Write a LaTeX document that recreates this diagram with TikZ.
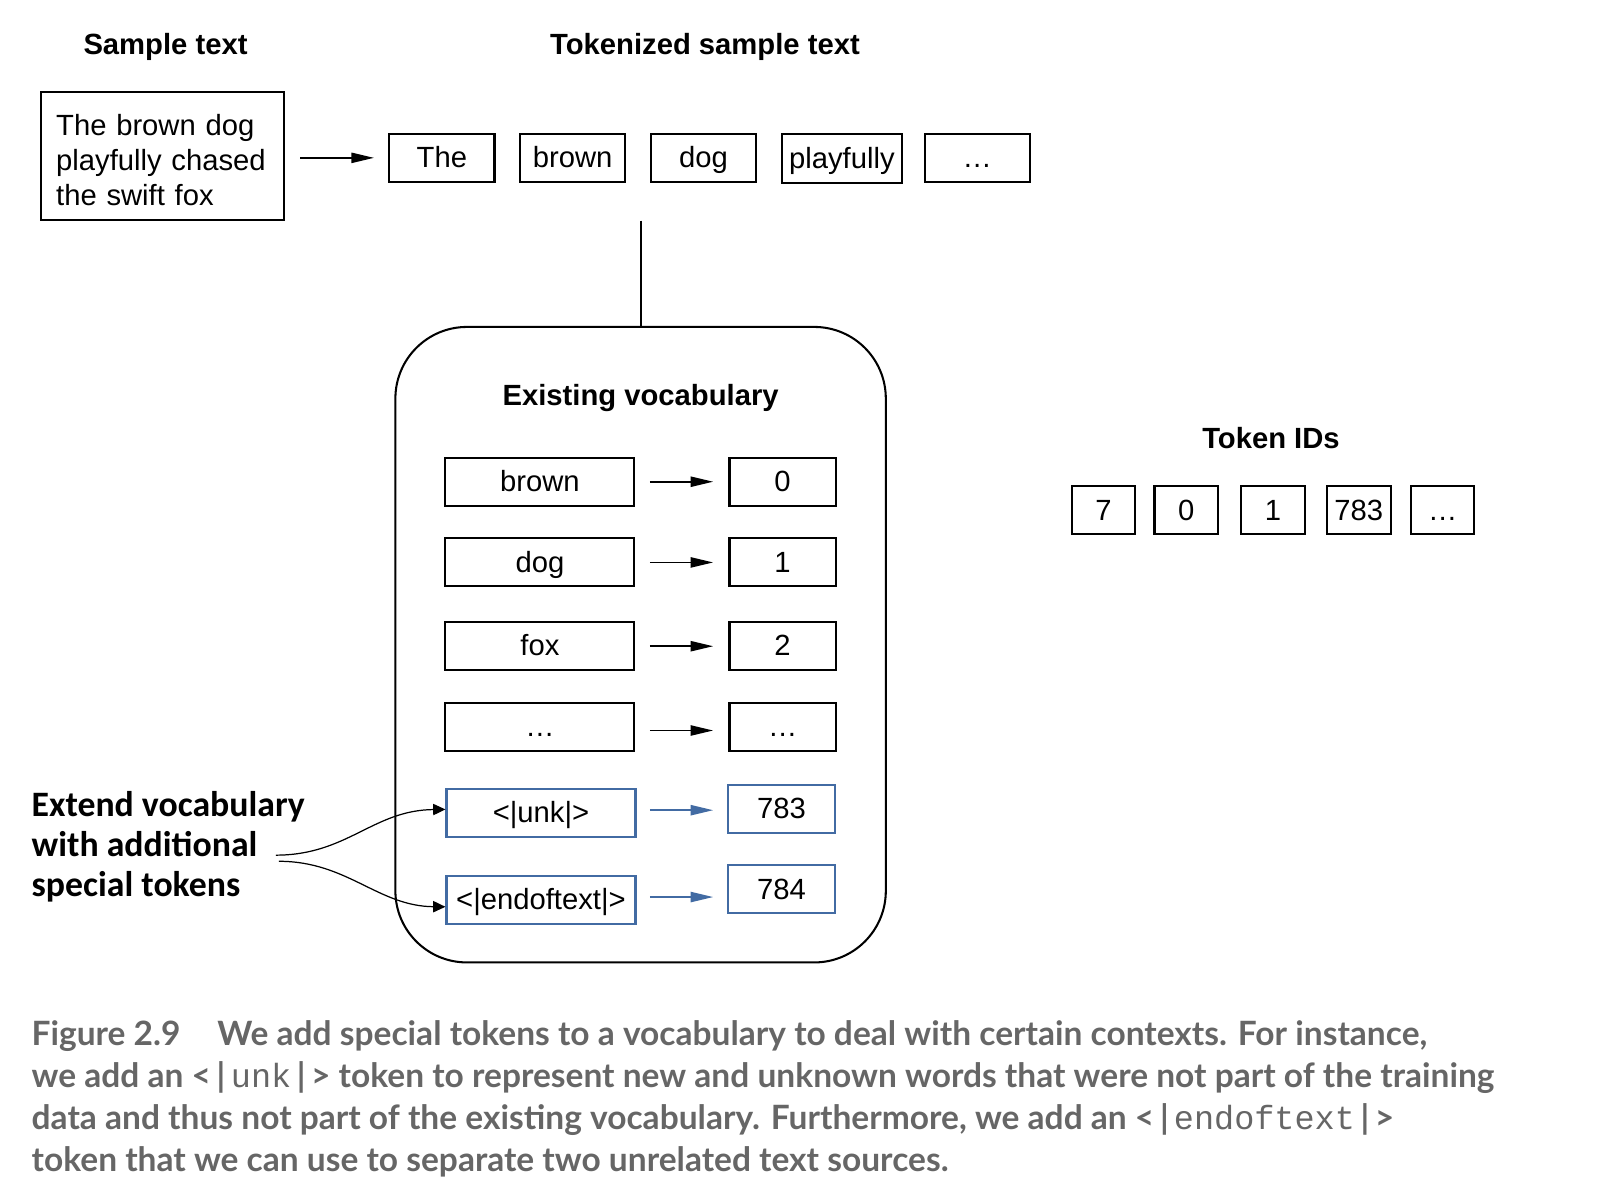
\documentclass[tikz,border=0pt]{standalone}
\usepackage{fontspec}
\setmainfont{Liberation Sans}
\newfontfamily\extfont{Carlito}
\newfontfamily\figcapfont{Lato}
\newfontfamily\figcapmono{Liberation Mono}
\usetikzlibrary{arrows.meta}

\definecolor{tokblue}{RGB}{66,107,163}
\definecolor{capgray}{RGB}{102,102,102}

\tikzset{every picture/.style={line width=1pt},
  tokbox/.style={draw, line width=1pt, inner sep=0pt, minimum height=23.5pt,
    text height=12.5pt, text depth=3pt, font=\fontsize{14.3}{17}\selectfont},
  headlabel/.style={font=\fontsize{14.3}{17}\selectfont\bfseries},
  tokarrow/.style={-{Triangle[length=11pt,width=5pt]}, line width=0.8pt},
  extarrow/.style={-{Triangle[length=6pt,width=5.5pt]}, line width=0.6pt}
}

\begin{document}
\begin{tikzpicture}[x=0.5pt,y=0.5pt,yscale=-1,xscale=1]
\useasboundingbox (0,0) rectangle (1568,1176.5);

% Text Node
\draw (162,46) node (hSample) [headlabel] {Sample text};
% Text Node
\draw (690,46) node (hTokens) [headlabel] {Tokenized sample text};

%Shape: Rectangle
\draw (159,152.5) node (sample) [draw, line width=1pt, inner xsep=7.5pt, inner ysep=0pt,
  text width=104pt, minimum height=62.5pt, align=left,
  font=\fontsize{14.3}{17.25}\selectfont] {\rule{0pt}{14.5pt}The brown dog\\playfully chased\\the swift fox};

%Shape: Rectangle
\draw (432.5,154.5) node (tkThe) [tokbox, minimum width=51.5pt] {The};
%Shape: Rectangle
\draw (560.5,154.5) node (tkBrown) [tokbox, minimum width=51.5pt] {brown};
%Shape: Rectangle
\draw (688.5,154.5) node (tkDog) [tokbox, minimum width=51.5pt] {dog};
%Shape: Rectangle
\draw (824,155) node (tkPlayfully) [tokbox, minimum width=59pt, minimum height=24pt] {playfully};
%Shape: Rectangle
\draw (956.5,154.5) node (tkDots) [tokbox, minimum width=51.5pt] {…};

%Straight Lines
\draw [tokarrow, shorten <=7.5pt, shorten >=7pt] (sample.east |- tkThe) -- (tkThe.west);

%Shape: Rounded Rectangle
\draw (627,631) node (vocab) [draw, line width=1pt, rounded corners=35pt,
  minimum width=240pt, minimum height=311pt] {};
%Straight Lines
\coordinate (tkSplit) at (627,216);
\draw (tkSplit) -- (vocab.north);

% Text Node
\draw (627,390) node (hVocab) [headlabel] {Existing vocabulary};

%Shape: Rectangle
\draw (528.5,471.5) node (wBrown) [tokbox, minimum width=92.5pt] {brown};
%Shape: Rectangle
\draw (528.5,550.5) node (wDog) [tokbox, minimum width=92.5pt] {dog};
%Shape: Rectangle
\draw (528.5,632.5) node (wFox) [tokbox, minimum width=92.5pt] {fox};
%Shape: Rectangle
\draw (528.5,711.5) node (wDots) [tokbox, minimum width=92.5pt] {…};
%Shape: Rectangle
\draw (529.5,795.5) node (wUnk) [tokbox, draw=tokblue, minimum width=92.5pt] {<|unk|>};
%Shape: Rectangle
\draw (529.5,881) node (wEnd) [tokbox, draw=tokblue, minimum width=92.5pt] {<|endoftext|>};

%Shape: Rectangle
\draw (766,471.5) node (vBrown) [tokbox, minimum width=52pt] {0};
%Shape: Rectangle
\draw (766,550.5) node (vDog) [tokbox, minimum width=52pt] {1};
%Shape: Rectangle
\draw (766,632.5) node (vFox) [tokbox, minimum width=52pt] {2};
%Shape: Rectangle
\draw (766,711.5) node (vDots) [tokbox, minimum width=52pt] {…};
%Shape: Rectangle
\draw (765,791.5) node (vUnk) [tokbox, draw=tokblue, minimum width=52pt] {783};
%Shape: Rectangle
\draw (765,870.5) node (vEnd) [tokbox, draw=tokblue, minimum width=52pt] {784};

%Straight Lines
\draw [tokarrow, shorten <=7pt, shorten >=7.5pt] (wBrown.east) -- (vBrown.west);
%Straight Lines
\draw [tokarrow, shorten <=7pt, shorten >=7.5pt] (wDog.east) -- (vDog.west);
%Straight Lines
\draw [tokarrow, shorten <=7pt, shorten >=7.5pt] (wFox.east) -- (vFox.west);
%Straight Lines
\draw [tokarrow, shorten <=7pt, shorten >=7.5pt] (wDots.east |- 0,715) -- (vDots.west |- 0,715);
%Straight Lines
\draw [tokarrow, tokblue, shorten <=6.5pt, shorten >=7pt] (wUnk.east |- 0,793) -- (vUnk.west |- 0,793);
%Straight Lines
\draw [tokarrow, tokblue, shorten <=6.5pt, shorten >=7pt] (wEnd.east |- 0,878) -- (vEnd.west |- 0,878);

% Text Node
\draw (1244,429) node (hIds) [headlabel] {Token IDs};
%Shape: Rectangle
\draw (1080,499.5) node (id7) [tokbox, minimum width=31pt] {7};
%Shape: Rectangle
\draw (1161,499.5) node (id0) [tokbox, minimum width=31pt] {0};
%Shape: Rectangle
\draw (1246,499.5) node (id1) [tokbox, minimum width=31pt] {1};
%Shape: Rectangle
\draw (1330,499.5) node (id783) [tokbox, minimum width=31pt] {783};
%Shape: Rectangle
\draw (1412,499.5) node (idDots) [tokbox, minimum width=31pt] {…};

% Text Node
\draw (30,829) node (extend) [anchor=west, inner sep=0pt, align=left,
  font=\extfont\bfseries\fontsize{17.5}{19.5}\selectfont] {Extend vocabulary\\with additional\\special tokens};

%Curve Lines
\coordinate (extUp) at (270,837);
\coordinate (extDown) at (273,843);
\draw [extarrow] (extUp) .. controls (340,837) and (365,793) .. (wUnk.178);
%Curve Lines
\draw [extarrow] (extDown) .. controls (340,843) and (370,887) .. (wEnd.184);

% Text Node
\draw (30,998) node (caption) [anchor=north west, inner sep=0pt, align=left, text=capgray,
  font=\figcapfont\bfseries\fontsize{16.4}{20.5}\selectfont]
  {Figure 2.9\hspace{1.1em}We add special tokens to a vocabulary to deal with certain contexts. For instance,\\
   we add an <\,|\,{\figcapmono\mdseries unk}\,|\,> token to represent new and unknown words that were not part of the training\\
   data and thus not part of the existing vocabulary. Furthermore, we add an <\,|\,{\figcapmono\mdseries endoftext}\,|\,>\\
   token that we can use to separate two unrelated text sources.};

\end{tikzpicture}
\end{document}
